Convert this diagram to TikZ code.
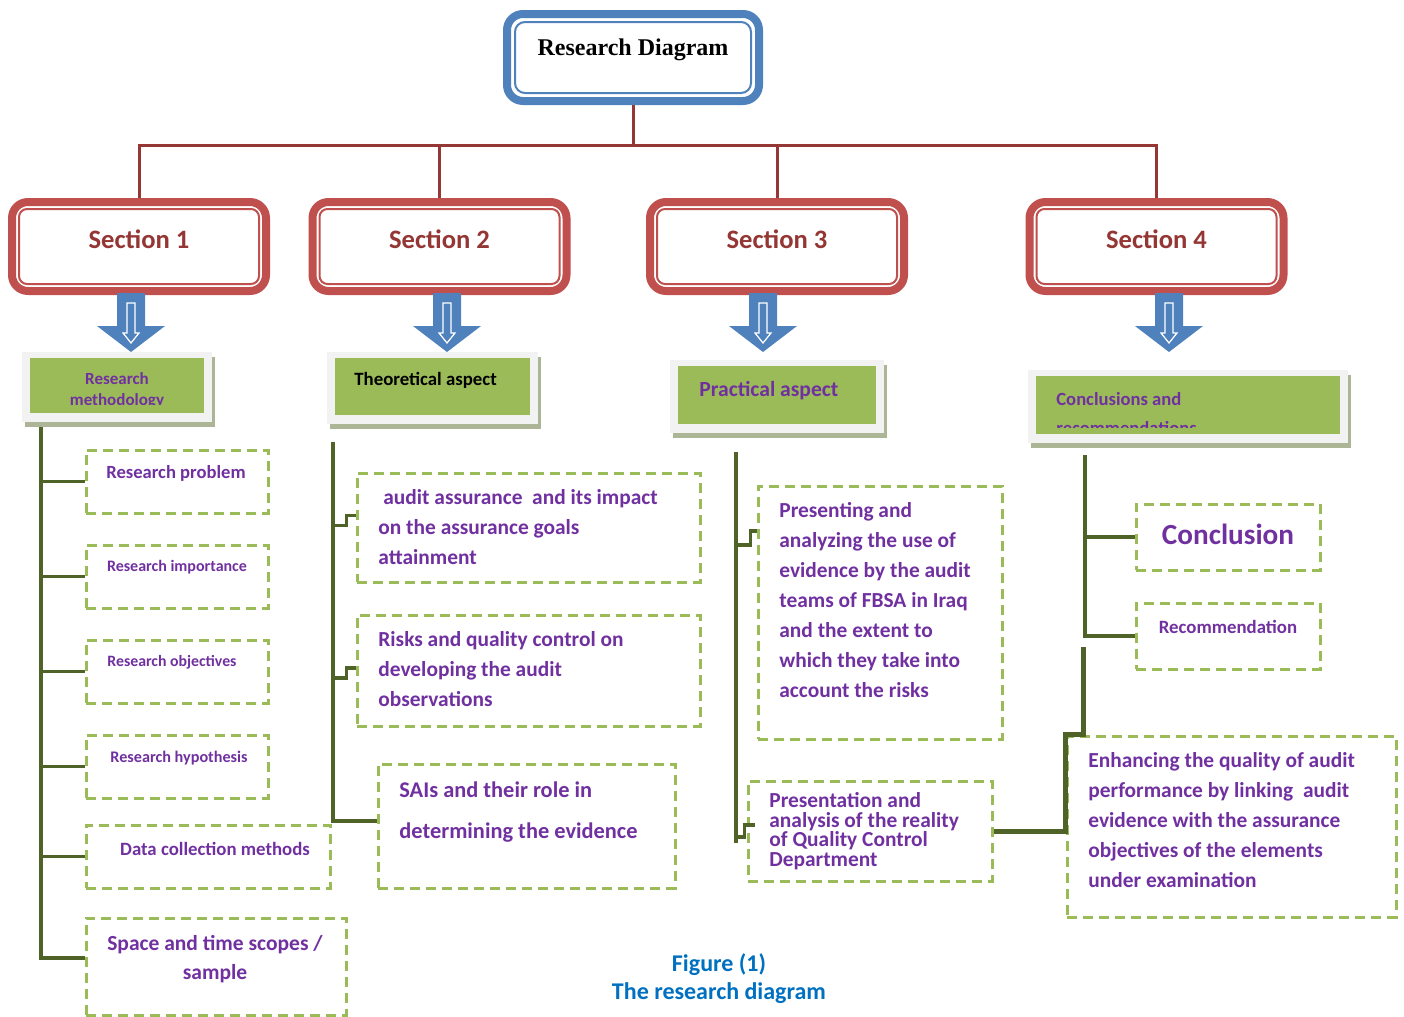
\documentclass[tikz,border=0pt]{standalone}
\usepackage{fontspec}
\setmainfont{Carlito}
\newfontfamily\timesfont{Liberation Serif}
\usepackage{tikz}
\usetikzlibrary{positioning, arrows.meta, calc, shadows}
\definecolor{titleblue}{RGB}{79,129,189}
\definecolor{secred}{RGB}{192,80,77}
\definecolor{secdark}{RGB}{148,54,52}
\definecolor{treered}{RGB}{149,55,53}
\definecolor{hgreen}{RGB}{155,187,89}
\definecolor{panelgray}{RGB}{242,242,242}
\definecolor{shadowgreen}{RGB}{172,182,150}
\definecolor{dgreen}{RGB}{79,98,40}
\definecolor{txtpurple}{RGB}{112,48,160}
\definecolor{capblue}{RGB}{0,112,192}
\newcommand{\fsz}[2]{\fontsize{#1}{#2}\selectfont\bfseries}

\begin{document}
\begin{tikzpicture}[x=0.5pt, y=-0.5pt,
    titlebox/.style={draw=titleblue, line width=4pt, rounded corners=8pt, fill=white, minimum width=126pt, minimum height=43.5pt, inner sep=0pt, font=\timesfont\fsz{12}{13}, text height=8pt, text depth=10pt},
    titlein/.style={draw=titleblue, line width=1pt, rounded corners=5pt},
    secbox/.style={draw=secred, line width=4pt, rounded corners=8pt, fill=white, minimum width=127pt, minimum height=44.5pt, inner sep=0pt, text=secdark, font=\fsz{13.3}{15}, text height=9pt, text depth=7pt},
    secin/.style={draw=secred, line width=1pt, rounded corners=4pt},
    tree/.style={draw=treered, line width=1.5pt},
    headpanel/.style={fill=panelgray, inner sep=0pt, drop shadow={shadow xshift=1.5pt, shadow yshift=-2.5pt, opacity=1, fill=shadowgreen},
        path picture={\fill[hgreen] ([shift={(4pt,-3pt)}]path picture bounding box.north west) rectangle ([shift={(-4pt,4.5pt)}]path picture bounding box.south east);}},
    itembox/.style={draw=hgreen, line width=1.5pt, dash pattern=on 5pt off 3pt, inner sep=0pt},
    txt/.style={text=txtpurple, inner sep=0pt, align=left},
    branch/.style={draw=dgreen, line width=1.8pt},
    link/.style={draw=dgreen, line width=2.5pt}]
\useasboundingbox (0,0) rectangle (1404,1017);

% title and sections
\node[titlebox] (title) at (633,57.5) {Research Diagram};
\draw[titlein] ([shift={(6pt,-6pt)}]title.north west) rectangle ([shift={(-6pt,6pt)}]title.south east);

\node[secbox] (sec1) at (139,246.5) {Section 1};
\node[secbox] (sec2) at (439.5,246.5) {Section 2};
\node[secbox] (sec3) at (777,246.5) {Section 3};
\node[secbox] (sec4) at (1156.5,246.5) {Section 4};
\foreach \s in {sec1,sec2,sec3,sec4}
    \draw[secin] ([shift={(5.5pt,-5.5pt)}]\s.north west) rectangle ([shift={(-5.5pt,5.5pt)}]\s.south east);

\coordinate (bus) at (0,145);
\draw[tree] (title.south) -- (title.south |- bus);
\draw[tree] (sec1.north) -- (sec1.north |- bus) -- (sec4.north |- bus) -- (sec4.north);
\draw[tree] (sec2.north) -- (sec2.north |- bus);
\draw[tree] (sec3.north) -- (sec3.north |- bus);

% block arrows
\foreach \ax in {131,447,763,1169}{
    \fill[titleblue] (\ax-14,293) -- (\ax+14,293) -- (\ax+14,326) -- (\ax+34,326) -- (\ax,352) -- (\ax-34,326) -- (\ax-14,326) -- cycle;
    \draw[white, line width=0.6pt] (\ax-4,303) -- (\ax+4,303) -- (\ax+4,333) -- (\ax+8,333) -- (\ax,343) -- (\ax-8,333) -- (\ax-4,333) -- cycle;
}

% green headers
\node[headpanel, minimum width=95pt, minimum height=35pt] (head1) at (117,387) {};
\node[headpanel, minimum width=105.5pt, minimum height=36pt] (head2) at (432.5,388) {};
\node[headpanel, minimum width=107pt, minimum height=36.5pt] (head3) at (777,396.5) {};
\node[headpanel, minimum width=160pt, minimum height=36.5pt] (head4) at (1188,406.5) {};
\begin{scope}
    \clip (head1.north west) rectangle ([yshift=9pt]head1.south east);
    \node[txt, align=center, font=\fsz{8.5}{10.5}] (head1-t) at (117,390) {Research\\methodology};
\end{scope}
\node[inner sep=0pt, anchor=west, font=\fsz{9.4}{12}] (head2-t) at (354,380) {Theoretical aspect};
\node[txt, anchor=west, font=\fsz{10.8}{13}] (head3-t) at (699,391) {Practical aspect};
\begin{scope}
    \clip (head4.north west) rectangle ([yshift=8pt]head4.south east);
    \node[txt, anchor=west, font=\fsz{9.3}{14.5}] (head4-t) at (1056,413.5) {Conclusions and\\recommendations};
\end{scope}

% section 1 items
\node[itembox, minimum width=91pt, minimum height=31.5pt] (prob) at (177,481.5) {};
\node[itembox, minimum width=91pt, minimum height=31.5pt] (imp) at (177,576.5) {};
\node[itembox, minimum width=91pt, minimum height=31.5pt] (obj) at (177,671.5) {};
\node[itembox, minimum width=91pt, minimum height=31.5pt] (hyp) at (177,766.5) {};
\node[itembox, minimum width=122pt, minimum height=31.5pt] (data) at (208,856.5) {};
\node[itembox, minimum width=130pt, minimum height=48.5pt] (space) at (216,966.5) {};
\node[txt, font=\fsz{9.3}{11}] (prob-t) at (176,473) {Research problem};
\node[txt, font=\fsz{8}{10}] (imp-t) at (177,567) {Research importance};
\node[txt, font=\fsz{7.9}{10}] (obj-t) at (172,662) {Research objectives};
\node[txt, font=\fsz{8.1}{10}] (hyp-t) at (179,758) {Research hypothesis};
\node[txt, font=\fsz{9.4}{11}] (data-t) at (215,849) {Data collection methods};
\node[txt, align=center, font=\fsz{10.75}{14.5}] (space-t) at (215,959.5) {Space and time scopes /\\sample};

\coordinate (sp1) at (41,427);
\foreach \b in {prob,imp,obj,hyp,data}
    \draw[branch] (sp1) |- (\b.west);
\draw[branch] (sp1) |- ([yshift=4.25pt]space.west);

% section 2 items
\node[itembox, minimum width=171.5pt, minimum height=54.5pt] (aud) at (528.5,527.5) {};
\node[itembox, minimum width=171.5pt, minimum height=55.5pt] (risk) at (528.5,670.5) {};
\node[itembox, minimum width=148.5pt, minimum height=62pt] (sai) at (526.5,826) {};
\node[txt, anchor=west, font=\fsz{10.7}{15}] (aud-t) at (378,527) {\hspace{2.5pt}audit assurance\ \ and its impact\\on the assurance goals\\attainment};
\node[txt, anchor=west, font=\fsz{10.7}{15}] (risk-t) at (378,669) {Risks and quality control on\\developing the audit\\observations};
\node[txt, anchor=west, font=\fsz{11.2}{20.5}] (sai-t) at (399,812.5) {SAIs and their role in\\determining the evidence};

\coordinate (sp2) at (333,442);
\draw[branch] (sp2) |- ([yshift=2.5pt]sai.west);
\draw[branch] (aud.west) ++(0,-12) -- ++(-9,0) -- ++(0,10) -- ++(-15,0);
\draw[branch] (risk.west) ++(0,-2.5) -- ++(-9,0) -- ++(0,10) -- ++(-15,0);

% section 3 items
\node[itembox, minimum width=122pt, minimum height=126.5pt] (pres) at (880,612.5) {};
\node[itembox, minimum width=122pt, minimum height=50pt] (qcd) at (870,831) {};
\node[txt, anchor=west, font=\fsz{10.7}{15}] (pres-t) at (779,600) {Presenting and\\analyzing the use of\\evidence by the audit\\teams of FBSA in Iraq\\and the extent to\\which they take into\\account the risks};
\node[txt, anchor=west, font={\fsz{10.7}{9.8}\lineskiplimit=-5pt\relax}] (qcd-t) at (769,831) {Presentation and\\analysis of the reality\\of Quality Control\\Department};

\coordinate (sp3) at (736,452);
\coordinate (sp3b) at (736,843);
\draw[branch] (sp3) -- (sp3b);
\draw[branch] (pres.west) ++(0,-81.5) -- ++(-6,0) -- ++(0,14) -- ++(-16,0);
\draw[branch] (qcd.west) ++(8,-6) -- ++(-10,0) -- ++(0,12) -- ++(-11,0);

% section 4 items
\node[itembox, minimum width=92pt, minimum height=33pt] (concl) at (1228,537) {};
\node[itembox, minimum width=92pt, minimum height=33pt] (rec) at (1228,636) {};
\node[itembox, minimum width=164.5pt, minimum height=90.5pt] (enh) at (1231.5,826.5) {};
\node[txt, font=\fsz{14.6}{18}] (concl-t) at (1228,534) {Conclusion};
\node[txt, font=\fsz{9.4}{11}] (rec-t) at (1228,627) {Recommendation};
\node[txt, anchor=west, font=\fsz{10.7}{15}] (enh-t) at (1088,820) {Enhancing the quality of audit\\performance by linking\ \ audit\\evidence with the assurance\\objectives of the elements\\under examination};

\coordinate (sp4) at (1085,455);
\draw[branch] (sp4) |- (concl.west);
\draw[branch] (sp4) |- (rec.west);
\draw[link] (qcd.east) -| (enh.north west) -- ++(18,0) -- ++(0,-88);

% caption
\node[align=center, inner sep=0pt, text=capblue, font=\fsz{12}{14}] (caption) at (719,979) {Figure (1)\\The research diagram};
\end{tikzpicture}
\end{document}
